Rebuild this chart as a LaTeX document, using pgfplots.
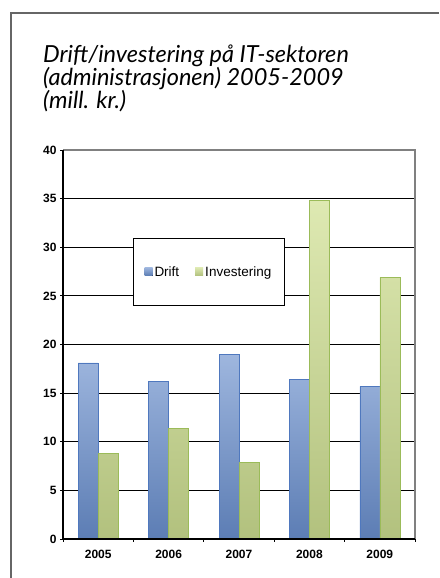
\documentclass[border=0pt]{standalone}
\usepackage{fontspec}
\setmainfont{Liberation Sans}
\newfontfamily\titlefont{Lato}
\usepackage{pgfplots}
\pgfplotsset{compat=1.18}

\definecolor{driftTop}{RGB}{158,182,222}
\definecolor{driftBot}{RGB}{92,125,180}
\definecolor{driftEdge}{RGB}{79,120,190}
\definecolor{invTop}{RGB}{222,233,178}
\definecolor{invBot}{RGB}{178,193,126}
\definecolor{invEdge}{RGB}{155,187,89}

\begin{document}
\begin{tikzpicture}[x=1pt,y=1pt]
  \useasboundingbox (0,0) rectangle (439,578);
  % outer frame
  \draw[gray!80!black, line width=1.2pt] (11,0) -- (11,565) -- (439,565);
  % title
  \begin{scope}[every node/.style={anchor=base west, inner sep=0pt,
      font=\titlefont\itshape\fontsize{23.5}{25}\selectfont}]
    \node at (43,515) {Drift/investering på IT-sektoren};
    \node at (43,492) {(administrasjonen) 2005-2009};
    \node at (43,469) {(mill. kr.)};
  \end{scope}

  \begin{axis}[
      at={(63pt,39pt)}, anchor=origin,
      scale only axis, width=352pt, height=389pt,
      ybar=0pt, bar width=20pt,
      xmin=0, xmax=5, ymin=0, ymax=40,
      xtick={0,...,5},
      xticklabels={2005,2006,2007,2008,2009},
      x tick label as interval,
      ytick={0,5,...,40},
      ymajorgrids, grid style={black, line width=0.9pt},
      axis x line*=bottom, axis y line*=left,
      axis line style={black, line width=1.3pt, -},
      tick style={black, line width=0.8pt},
      major tick length=3pt, tick align=outside,
      /pgf/number format/assume math mode=true,
      ticklabel style={font=\bfseries\fontsize{12}{14}\selectfont},
      xticklabel style={yshift=-5pt},
      legend columns=2,
      legend style={at={(0.199,0.774)}, anchor=north west, draw=black,
        line width=0.9pt, inner xsep=11pt, inner ysep=26pt,
        font=\fontsize{13.5}{15}\selectfont,
        /tikz/every even column/.append style={column sep=14pt}},
      legend image code/.code={%
        \fill[#1, draw=none] (0pt,-3.5pt) rectangle (8pt,4.5pt);},
      after end axis/.code={%
        \draw[gray, line width=1.2pt] (rel axis cs:0,1) -- (rel axis cs:1,1) -- (rel axis cs:1,0);
        \draw[black, line width=1.3pt] (rel axis cs:0,1) -- (rel axis cs:0,0) -- (rel axis cs:1,0);},
    ]
    \addplot[draw=driftEdge, line width=0.6pt, top color=driftTop, bottom color=driftBot]
      coordinates {(0.5,18.1) (1.5,16.2) (2.5,19.0) (3.5,16.4) (4.5,15.7)};
    \addplot[draw=invEdge, line width=0.6pt, top color=invTop, bottom color=invBot]
      coordinates {(0.5,8.8) (1.5,11.4) (2.5,7.9) (3.5,34.8) (4.5,26.9)};
    \legend{Drift, Investering}
  \end{axis}
\end{tikzpicture}
\end{document}
